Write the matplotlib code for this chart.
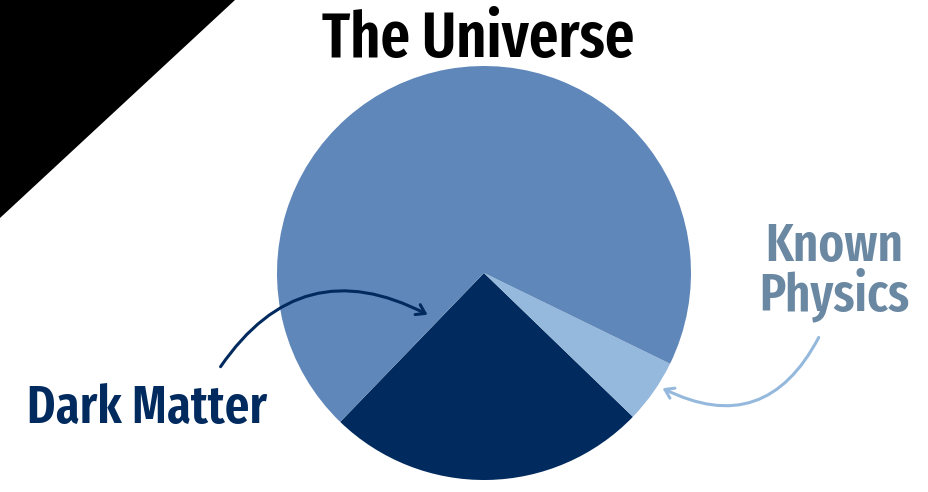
import matplotlib
matplotlib.use("Agg")
import matplotlib.pyplot as plt
from matplotlib.patches import Polygon, FancyArrowPatch

W, H = 929, 492

# Composition of the universe (percent)
components = ["Dark Matter", "Known Physics", "Dark Energy"]
shares = [25, 5, 70]
colors = ["#012a5e", "#95b9dd", "#5f87b9"]

title = "The Universe"

fig = plt.figure(figsize=(W / 100, H / 100), dpi=100)
ax = fig.add_axes([0, 0, 1, 1])


def Y(y):
    return H - y


# corner band
ax.add_patch(Polygon([(0, Y(0)), (235, Y(0)), (0, Y(218))], closed=True,
                     facecolor="black", edgecolor="none"))

ax.pie(shares, colors=colors, startangle=226, counterclock=True,
       center=(484, Y(273)), radius=207, frame=True,
       wedgeprops=dict(linewidth=0))
ax.set_xlim(0, W)
ax.set_ylim(0, H)
ax.set_aspect("equal")
ax.axis("off")

font = dict(family=["Fira Sans Extra Condensed", "Fira Sans Condensed", "DejaVu Sans"],
            fontweight="semibold")

ax.text(478, Y(57), title, ha="center", va="baseline", fontsize=45.5,
        color="black", **font)
ax.text(27, Y(423), components[0], ha="left", va="baseline",
        fontsize=38, color="#012a5e", **font)
ax.text(834, Y(310), "Known\nPhysics", ha="center", va="baseline", fontsize=38,
        color="#6b88a3", linespacing=0.87, multialignment="center", **font)

ax.add_patch(FancyArrowPatch((219, Y(369)), (430, Y(316)),
                             connectionstyle="arc3,rad=-0.45",
                             arrowstyle="->,head_length=6,head_width=4",
                             color="#012a5e", lw=2.2))
ax.add_patch(FancyArrowPatch((820, Y(335)), (660, Y(387)),
                             connectionstyle="arc3,rad=-0.5",
                             arrowstyle="->,head_length=6,head_width=4",
                             color="#95b9dd", lw=2.2))

fig.savefig("out.png", dpi=100)
